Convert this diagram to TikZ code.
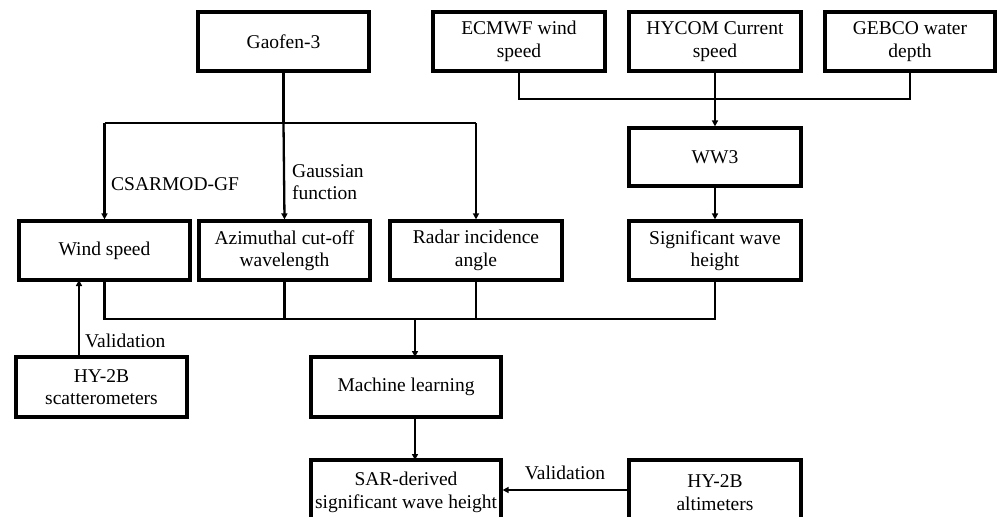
\documentclass[tikz,border=0pt]{standalone}
\usepackage{fontspec}
\setmainfont{Liberation Serif}
\usetikzlibrary{arrows.meta}
\begin{document}
\begin{tikzpicture}[x=1pt,y=-1pt,
  box/.style={draw,line width=3.2pt,minimum width=#1,minimum height=59pt,inner sep=0pt,align=center,font=\fontsize{19.5}{22.5}\selectfont},
  box/.default=172pt,
  conn/.style={line width=2.3pt},
  arr/.style={line width=2.3pt,-{Triangle[length=6pt,width=6pt]}},
  lbl/.style={font=\fontsize{19.5}{22.5}\selectfont,inner sep=0pt,align=left}]
\clip (0,0) rectangle (997,517);
\fill[white] (0,0) rectangle (997,517);
% top row
\node[box=171pt] (gaofen) at (283.5,41.5) {Gaofen-3};
\node[box] (ecmwf) at (519,41.5) {ECMWF wind\\speed};
\node[box] (hycom) at (715,41.5) {HYCOM Current\\speed};
\node[box=170pt] (gebco) at (910,41.5) {GEBCO water\\depth};
\node[box,minimum height=58pt] (ww3) at (715,157) {WW3};
% middle row
\node[box=171pt] (wind) at (104.5,250.5) {Wind speed};
\node[box=171pt] (azi) at (284.5,250.5) {Azimuthal cut-off\\wavelength};
\node[box] (radar) at (476,250.5) {Radar incidence\\angle};
\node[box] (swh) at (715,250.5) {Significant wave\\height};
% lower
\node[box=171pt,minimum height=60pt] (scatt) at (101.5,387) {HY-2B\\scatterometers};
\node[box=190pt,minimum height=60pt] (ml) at (406,387) {Machine learning};
\node[box=190pt,minimum height=65pt] (sar) at (406,492.5) {SAR-derived\\significant wave height};
\node[box,minimum height=65pt] (alt) at (715,492.5) {HY-2B\\altimeters};
% coordinates
\coordinate (gsplit) at (gaofen.south |- 0,123);
\coordinate (gl) at (wind.north |- 0,123);
\coordinate (gr) at (radar.north |- 0,123);
\coordinate (tl) at (ecmwf.south |- 0,99);
\coordinate (tr) at (gebco.south |- 0,99);
\coordinate (tm) at (hycom.south |- 0,99);
\coordinate (bl) at (wind.south |- 0,319);
\coordinate (br) at (swh.south |- 0,319);
\coordinate (bm) at (415,319);
\coordinate (mlin) at (415,357);
\coordinate (mlout) at (415,417);
\coordinate (sarin) at (415,460);
\coordinate (vs) at (79,357);
\coordinate (ve) at (79,280);
% connectors from Gaofen-3
\draw[conn] (gaofen.south) -- (gsplit);
\draw[conn] (gl) -- (gr);
\draw[arr] (gl) -- (wind.north);
\draw[arr] (gsplit) -- (azi.north);
\draw[arr] (gr) -- (radar.north);
% inputs to WW3
\draw[conn] (ecmwf.south) -- (tl) -- (tr) -- (gebco.south);
\draw[arr] (hycom.south) -- (ww3.north);
\draw[arr] (ww3.south) -- (swh.north);
% to machine learning
\draw[conn] (wind.south) -- (bl) -- (br) -- (swh.south);
\draw[conn] (azi.south) -- (azi.south |- bl);
\draw[conn] (radar.south) -- (radar.south |- bl);
\draw[arr] (bm) -- (mlin);
\draw[arr] (mlout) -- (sarin);
% validation
\draw[arr] (vs) -- (ve);
\draw[arr] (alt.west |- 0,490) -- (sar.east |- 0,490);
% labels
\node[lbl,anchor=west] (l1) at (111,184) {CSARMOD-GF};
\node[lbl,anchor=west] (l2) at (292,182) {Gaussian\\function};
\node[lbl,anchor=west] (l3) at (85,341) {Validation};
\node[lbl] (l4) at (565,473) {Validation};
\end{tikzpicture}
\end{document}
